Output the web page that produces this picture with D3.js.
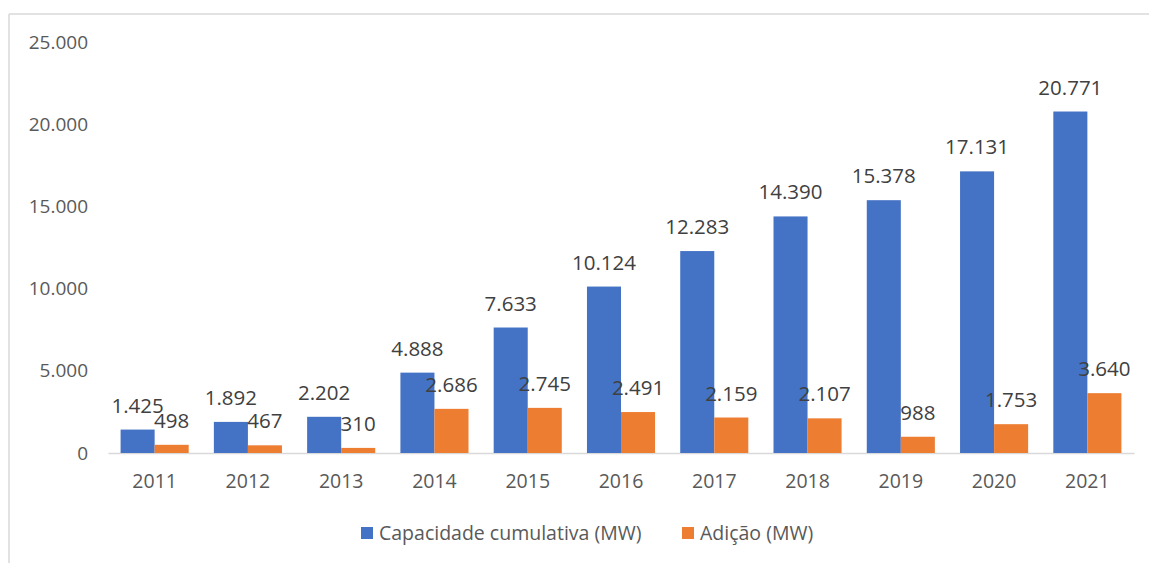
<!DOCTYPE html>
<html>
<head>
<meta charset="utf-8">
<script src="https://cdn.jsdelivr.net/npm/d3@7"></script>
<style>
  body { margin: 0; background: #fff; }
  text { font-family: "Open Sans", "Noto Sans", sans-serif; }
</style>
</head>
<body>
<div id="chart"></div>
<script>
var years = ["2011", "2012", "2013", "2014", "2015", "2016", "2017", "2018", "2019", "2020", "2021"];
var cumulativa = [1425, 1892, 2202, 4888, 7633, 10124, 12283, 14390, 15378, 17131, 20771];
var adicao = [498, 467, 310, 2686, 2745, 2491, 2159, 2107, 988, 1753, 3640];
var yTicks = [0, 5000, 10000, 15000, 20000, 25000];
var seriesNames = ["Capacidade cumulativa (MW)", "Adição (MW)"];
var colors = ["#4472C4", "#ED7D31"];

var W = 1149, H = 563;
var margin = { top: 42, right: 15, bottom: 110, left: 108 },
  width = W - margin.left - margin.right,
  height = H - margin.top - margin.bottom;

var svg = d3.select("#chart")
  .append("svg")
  .attr("width", W)
  .attr("height", H);

// chart frame (only top and left edges are inside the picture)
svg.append("line")
  .attr("x1", 9).attr("x2", W).attr("y1", 14).attr("y2", 14)
  .attr("stroke", "#d9d9d9").attr("stroke-width", 1.5);
svg.append("line")
  .attr("x1", 9).attr("x2", 9).attr("y1", 14).attr("y2", H)
  .attr("stroke", "#d9d9d9").attr("stroke-width", 1.5);

var g = svg.append("g")
  .attr("transform", "translate(" + margin.left + "," + margin.top + ")");

var x = d3.scaleBand()
  .domain(years)
  .range([0, width])
  .paddingInner(0)
  .paddingOuter(0);

var inner = d3.scaleBand()
  .domain([0, 1])
  .range([x.bandwidth() * 0.135, x.bandwidth() * 0.865]);

var y = d3.scaleLinear()
  .domain([0, 25000])
  .range([height, 0]);

var fmt = function (v) { return d3.format(",")(v).replace(/,/g, "."); };

// y axis labels
var yAxis = g.append("g")
  .call(d3.axisLeft(y).tickValues(yTicks).tickSize(0).tickPadding(20).tickFormat(fmt));
yAxis.select(".domain").remove();
yAxis.selectAll("text")
  .attr("fill", "#595959")
  .style("font-size", "19px");

// x axis
var xAxis = g.append("g")
  .attr("transform", "translate(0," + height + ")")
  .call(d3.axisBottom(x).tickSize(0).tickPadding(21));
xAxis.select(".domain").attr("stroke", "#d9d9d9").attr("stroke-width", 1.5);
xAxis.selectAll("text")
  .attr("fill", "#595959")
  .style("font-size", "19.5px");

var series = [cumulativa, adicao];

series.forEach(function (vals, si) {
  var data = years.map(function (yr, i) { return { year: yr, value: vals[i] }; });

  g.selectAll(".bar" + si)
    .data(data)
    .enter()
    .append("rect")
    .attr("class", "bar" + si)
    .attr("x", function (d) { return x(d.year) + inner(si); })
    .attr("width", inner.bandwidth())
    .attr("y", function (d) { return y(d.value); })
    .attr("height", function (d) { return height - y(d.value); })
    .attr("fill", colors[si]);

  g.selectAll(".lab" + si)
    .data(data)
    .enter()
    .append("text")
    .attr("class", "lab" + si)
    .attr("x", function (d) { return x(d.year) + inner(si) + inner.bandwidth() / 2; })
    .attr("y", function (d) { return y(d.value) - 17; })
    .attr("text-anchor", "middle")
    .attr("fill", "#404040")
    .style("font-size", "20.5px")
    .text(function (d) { return fmt(d.value); });
});

// legend
var legend = svg.append("g");
var legendX = [361, 682];
seriesNames.forEach(function (name, i) {
  legend.append("rect")
    .attr("x", legendX[i]).attr("y", 527)
    .attr("width", 12).attr("height", 12)
    .attr("fill", colors[i]);
  legend.append("text")
    .attr("x", legendX[i] + 18).attr("y", 533)
    .attr("dy", "0.35em")
    .attr("fill", "#595959")
    .style("font-size", "19.5px")
    .text(name);
});
</script>
</body>
</html>
